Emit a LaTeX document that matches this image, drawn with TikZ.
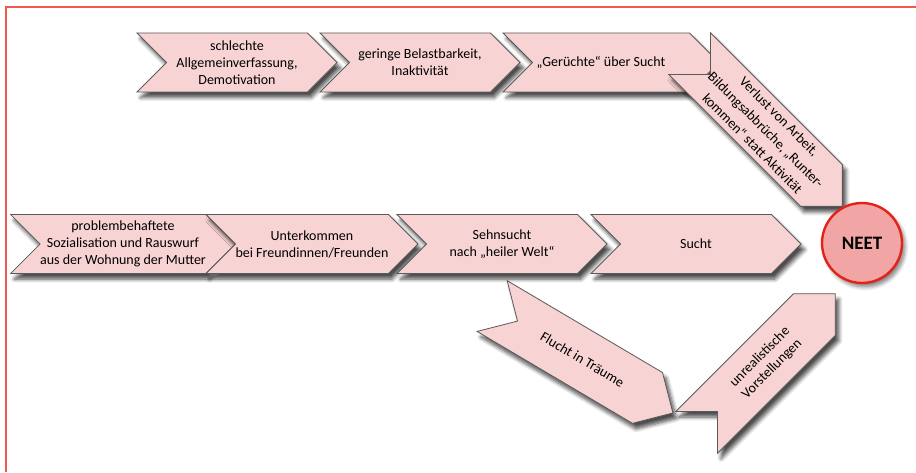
\documentclass[tikz,border=0pt]{standalone}
\usepackage{fontspec}
\setmainfont{Carlito}
\usetikzlibrary{shapes.symbols, shadows.blur}
\definecolor{ChevPink}{HTML}{F8D3D3}
\definecolor{ChevLine}{HTML}{5A5A5A}
\definecolor{NeetFill}{HTML}{F2A5A5}
\definecolor{NeetRed}{HTML}{E2231A}
\definecolor{FrameRed}{HTML}{EE5A50}

\begin{document}
\begin{tikzpicture}[x=0.5pt, y=0.5pt,
        % --- chevron steps ---
        chev/.style    = {signal, signal to=east, signal from=west, signal pointer angle=90,
                          draw=ChevLine, fill=ChevPink, thin, inner sep=0pt,
                          minimum height=29.5pt, align=center,
                          font=\fontsize{7}{8.5}\selectfont,
                          blur shadow={shadow xshift=1.8pt, shadow yshift=-2.8pt,
                                       shadow blur steps=6, shadow opacity=70}},
        toprow/.style  = {chev, minimum width=100pt},
        midrow/.style  = {chev, minimum width=105pt},
        % --- end point ---
        goal/.style    = {circle, draw=NeetRed, fill=NeetFill, line width=1.2pt,
                          minimum size=40pt, inner sep=0pt,
                          font=\fontsize{9.5}{10}\selectfont\bfseries,
                          blur shadow={shadow xshift=1.5pt, shadow yshift=-2pt,
                                       shadow blur steps=6, shadow opacity=50}}
    ]
    \useasboundingbox (0,0) rectangle (916,472);

    % frame
    \draw[FrameRed, line width=1pt] (6,0) -- (6,465) -- (916,465);

    % --- upper path ---
    \node[toprow] (allg) at (237,409.5) {schlechte\\Allgemeinverfassung,\\Demotivation};
    \node[toprow] (belast) at (420,409.5) {geringe Belastbarkeit,\\Inaktivität};
    \node[chev, minimum width=108pt] (geruecht) at (611,409.5) {„Gerüchte“ über Sucht\hspace*{10pt}};
    \node[chev, minimum width=100pt, rotate=-45, font=\fontsize{7}{9.5}\selectfont] (verlust) at (766,342)
        {Verlust von Arbeit,\\Bildungsabbrüche, „Runter-\\kommen“ statt Aktivität};

    % --- main path ---
    \node[midrow] (sozial) at (123,228) {problembehaftete\\Sozialisation und Rauswurf\\aus der Wohnung der Mutter};
    \node[midrow] (unterk) at (312,228) {Unterkommen\\bei Freundinnen/Freunden};
    \node[midrow] (sehn) at (502,228) {Sehnsucht\\nach „heiler Welt“};
    \node[midrow] (sucht) at (696,228) {Sucht};

    % --- lower path ---
    \node[midrow, rotate=-30.6] (flucht) at (582.5,112.5) {Flucht in Träume};
    \node[chev, minimum width=98pt, rotate=45] (unreal) at (766,109) {unrealistische\\Vorstellungen};

    \node[goal] (neet) at (862,229) {NEET};

\end{tikzpicture}
\end{document}
